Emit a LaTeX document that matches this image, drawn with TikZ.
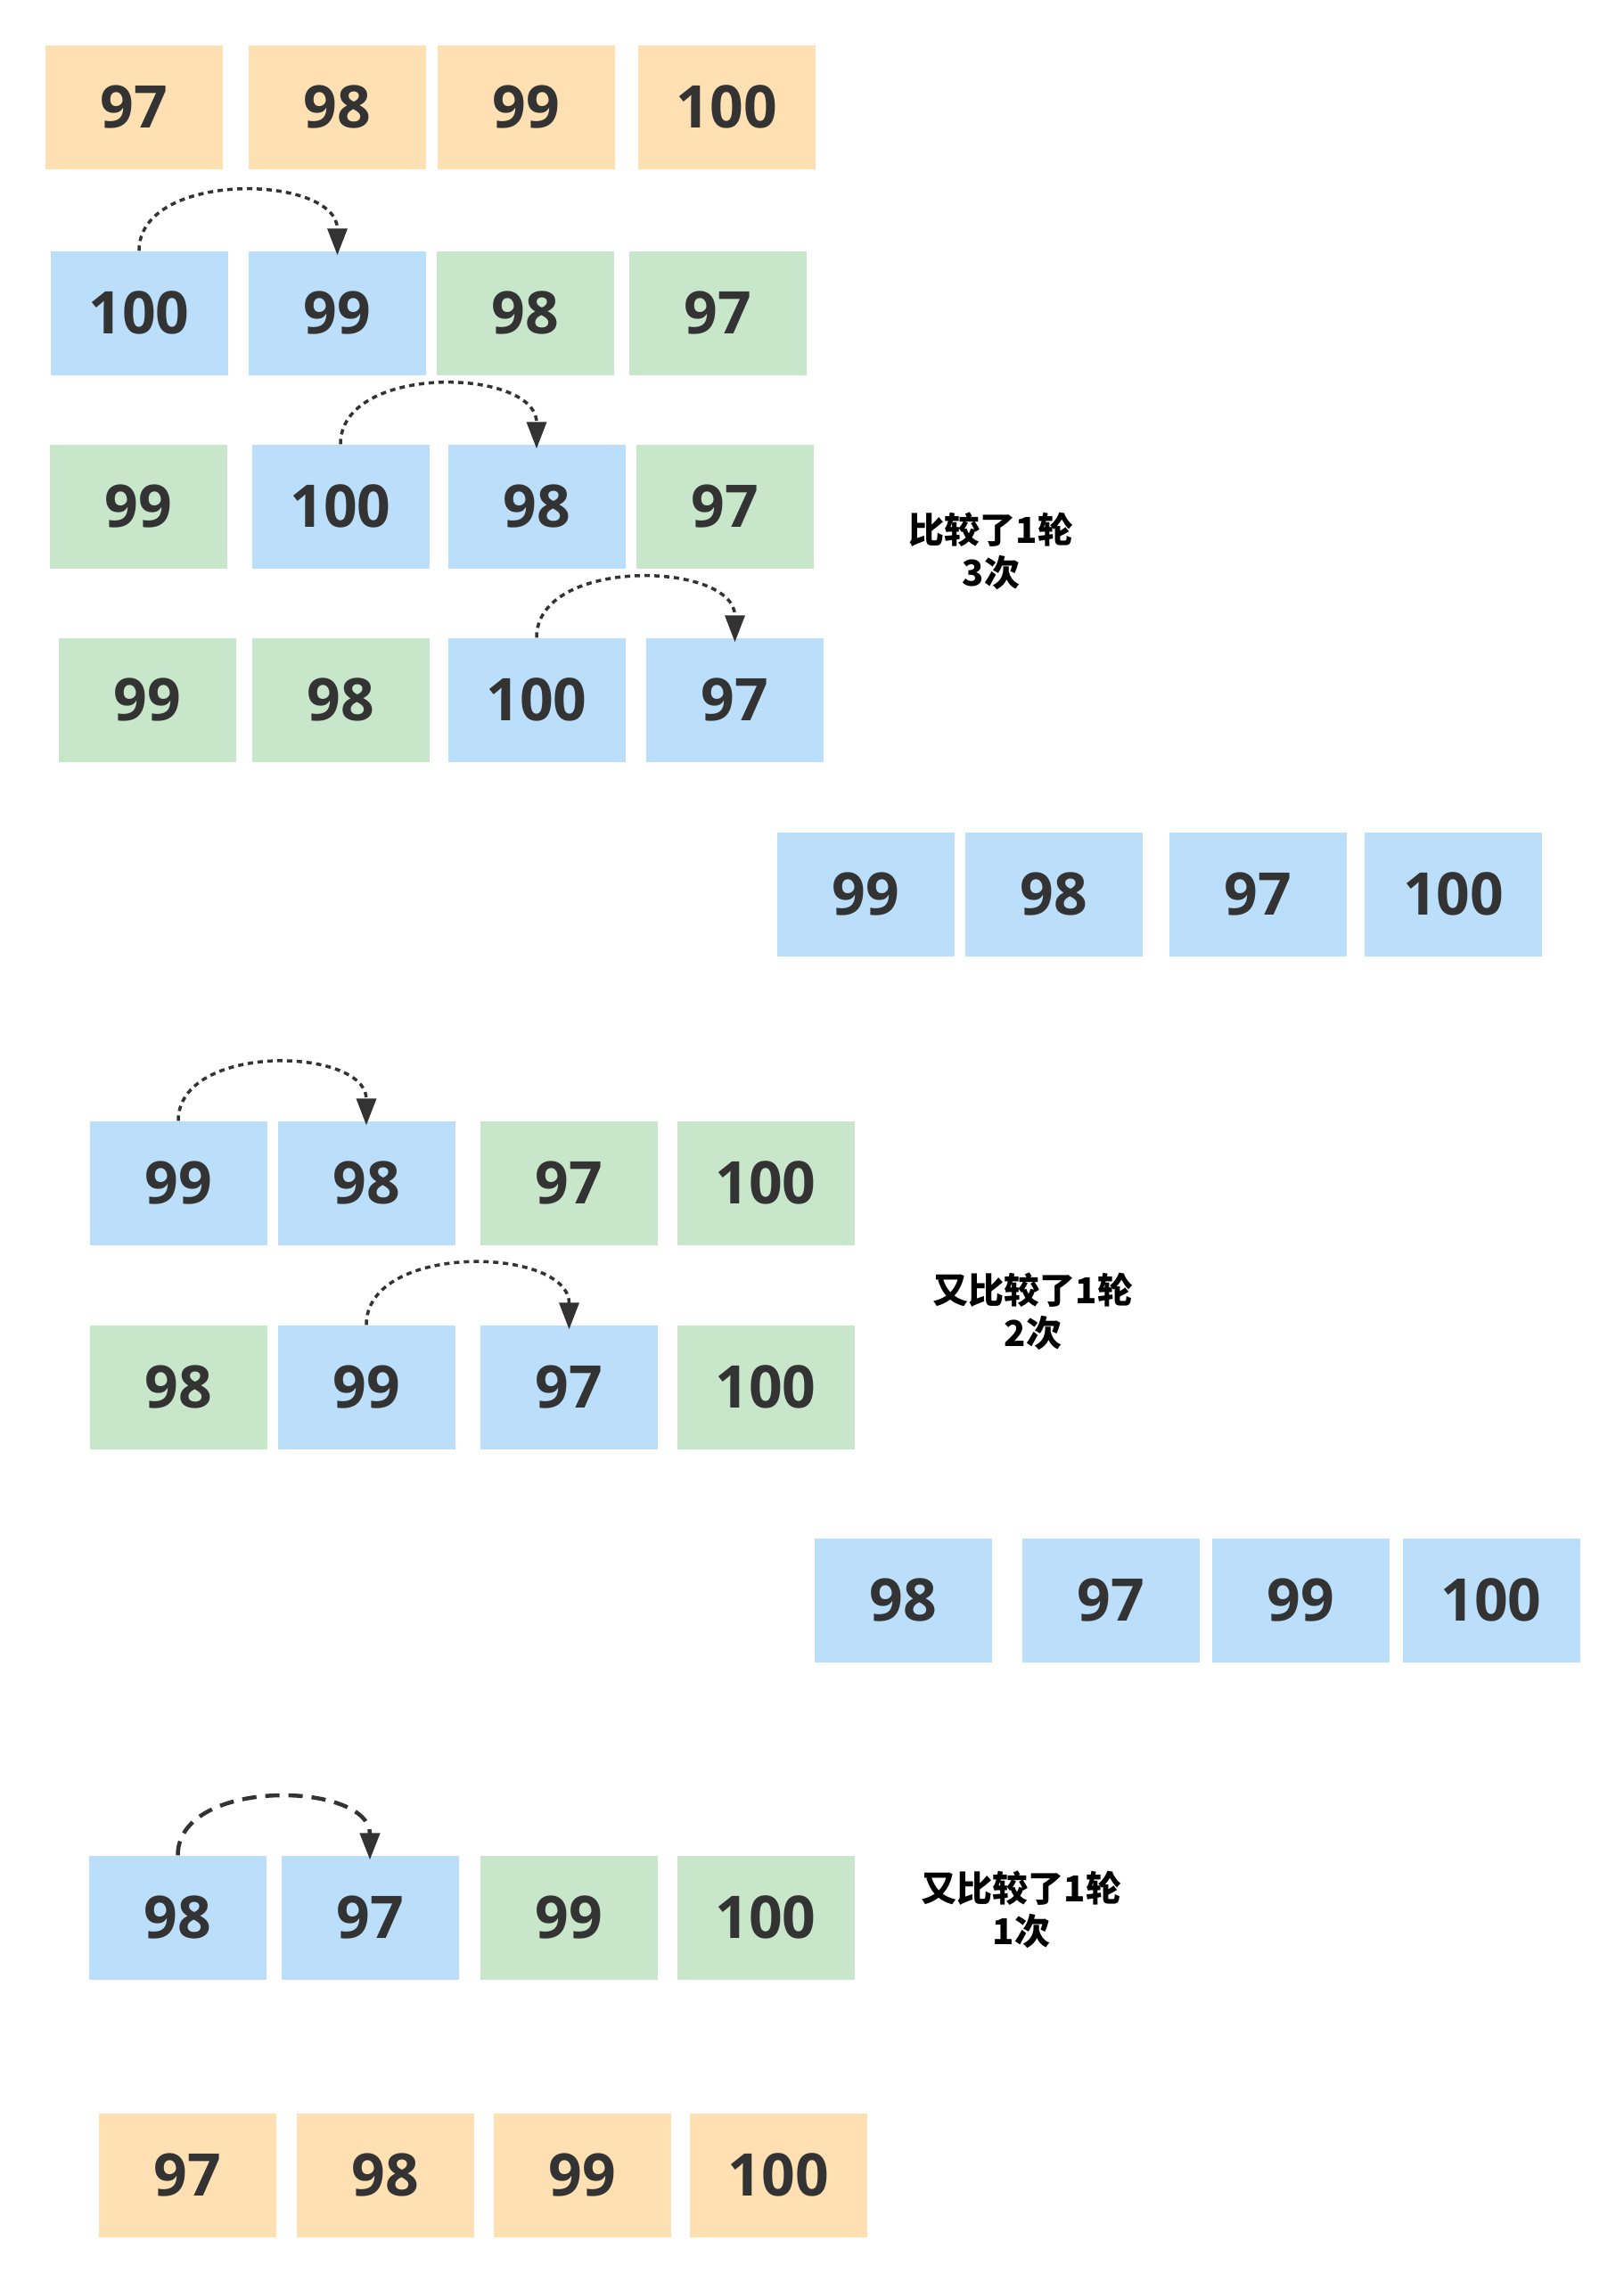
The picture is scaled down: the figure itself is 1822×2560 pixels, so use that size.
\documentclass[tikz,border=0pt]{standalone}
\usepackage{fontspec}
\usetikzlibrary{arrows.meta,calc}
\newfontfamily\numfont{Open Sans}
\newfontfamily\cjk{Noto Sans CJK SC}
\definecolor{cOrange}{HTML}{FFE0B2}
\definecolor{cBlue}{HTML}{BBDEFB}
\definecolor{cGreen}{HTML}{C8E6C9}
\definecolor{cText}{HTML}{333333}
\tikzset{
  cell/.style={minimum width=199pt,minimum height=139pt,inner sep=0pt,
    text=cText,font=\numfont\bfseries\fontsize{66}{66}\selectfont},
  og/.style={cell,fill=cOrange},
  bl/.style={cell,fill=cBlue},
  gr/.style={cell,fill=cGreen},
  swaparc/.style={draw=cText,line width=3.5pt,dash pattern=on 6pt off 5pt,
    -{Triangle[width=22pt,length=30pt,fill=cText]}},
  swaparcB/.style={draw=cText,line width=4.5pt,dash pattern=on 16pt off 10pt,
    -{Triangle[width=22pt,length=30pt,fill=cText]}},
  note/.style={align=center,text=black,font=\cjk\bfseries\fontsize{40}{48}\selectfont}
}
\begin{document}
\begin{tikzpicture}[x=1pt,y=-1pt]
\useasboundingbox[fill=white] (0,0) rectangle (1822,2560);
% row 1
\node[og] (a1) at (150.5,120) {97};
\node[og] (a2) at (378.5,120) {98};
\node[og] (a3) at (590,120) {99};
\node[og] (a4) at (815.5,120) {100};
% row 2
\node[bl] (b1) at (156,351) {100};
\node[bl] (b2) at (378.5,351) {99};
\node[gr] (b3) at (589,351) {98};
\node[gr] (b4) at (805.5,351) {97};
% row 3
\node[gr] (c1) at (155,568) {99};
\node[bl] (c2) at (382,568) {100};
\node[bl] (c3) at (602,568) {98};
\node[gr] (c4) at (813,568) {97};
% row 4
\node[gr] (d1) at (165,785) {99};
\node[gr] (d2) at (382,785) {98};
\node[bl] (d3) at (602,785) {100};
\node[bl] (d4) at (824.5,785) {97};
% row 5
\node[bl] (e1) at (971.5,1003) {99};
\node[bl] (e2) at (1182,1003) {98};
\node[bl] (e3) at (1411.5,1003) {97};
\node[bl] (e4) at (1630.5,1003) {100};
% row 6
\node[bl] (f1) at (200,1327) {99};
\node[bl] (f2) at (411,1327) {98};
\node[gr] (f3) at (638.5,1327) {97};
\node[gr] (f4) at (859,1327) {100};
% row 7
\node[gr] (g1) at (200,1556) {98};
\node[bl] (g2) at (411,1556) {99};
\node[bl] (g3) at (638.5,1556) {97};
\node[gr] (g4) at (859,1556) {100};
% row 8
\node[bl] (h1) at (1013,1795) {98};
\node[bl] (h2) at (1246.5,1795) {97};
\node[bl] (h3) at (1459.5,1795) {99};
\node[bl] (h4) at (1673,1795) {100};
% row 9
\node[bl] (i1) at (199.5,2151) {98};
\node[bl] (i2) at (415,2151) {97};
\node[gr] (i3) at (638.5,2151) {99};
\node[gr] (i4) at (859,2151) {100};
% row 10
\node[og] (j1) at (210.5,2440) {97};
\node[og] (j2) at (432.5,2440) {98};
\node[og] (j3) at (653,2440) {99};
\node[og] (j4) at (873.5,2440) {100};
% labels
\node[note] (n1) at (1112,618) {比较了1轮\\3次};
\node[note] (n2) at (1159,1471) {又比较了1轮\\2次};
\node[note] (n3) at (1146,2142) {又比较了1轮\\1次};
% arcs
\draw[swaparc] (b1.north) .. controls +(0,-91) and +(0,-91) .. ($(b2.north)+(0,5)$);
\draw[swaparc] (c2.north) .. controls +(0,-91) and +(0,-91) .. ($(c3.north)+(0,5)$);
\draw[swaparc] (d3.north) .. controls +(0,-91) and +(0,-91) .. ($(d4.north)+(0,5)$);
\draw[swaparc] (f1.north) .. controls +(0,-88) and +(0,-88) .. ($(f2.north)+(0,5)$);
\draw[swaparc] (g2.north) .. controls +(0,-93) and +(0,-93) .. ($(g3.north)+(0,5)$);
\draw[swaparcB] (i1.north) .. controls +(0,-88) and +(0,-88) .. ($(i2.north)+(0,5)$);
\end{tikzpicture}
\end{document}
